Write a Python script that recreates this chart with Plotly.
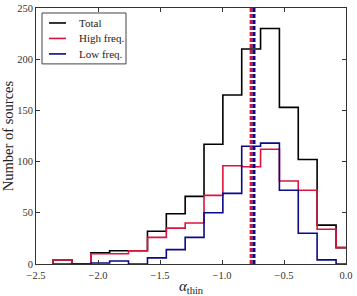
import plotly.graph_objects as go

# Bin edges (alpha_thin) and counts
bin_edges = [-2.362, -2.210, -2.058, -1.906, -1.754, -1.601, -1.449, -1.297,
             -1.145, -0.993, -0.841, -0.689, -0.537, -0.385, -0.233, -0.080, 0.072]
total_counts = [4, 0, 11, 13, 13, 32, 49, 66, 117, 165, 210, 230, 153, 102, 38, 16]
high_counts = [4, 0, 10, 10, 13, 26, 35, 40, 67, 96, 95, 112, 81, 72, 34, 16]
low_counts = [0, 0, 1, 3, 0, 6, 14, 26, 50, 69, 115, 118, 72, 30, 4, 0]
high_median = -0.765
low_median = -0.742

x_ticks = [-2.5, -2.0, -1.5, -1.0, -0.5, 0.0]
y_ticks = [0, 50, 100, 150, 200, 250]

names = ["Total", "High freq.", "Low freq."]
colors = ["#000000", "#dc143c", "#0a0a8a"]
FONT = "Liberation Serif"


def step_xy(edges, counts):
    xs = [edges[0]] + list(edges)
    ys = [0] + list(counts) + [counts[-1]]
    xs = xs + [edges[-1]]
    ys = ys + [0]
    return xs, ys


fig = go.Figure()
for name, counts, col in zip(names, [total_counts, high_counts, low_counts], colors):
    xs, ys = step_xy(bin_edges, counts)
    fig.add_trace(go.Scatter(x=xs, y=ys, mode="lines", name=name,
                             line=dict(color=col, width=1.6, shape="hv"),
                             showlegend=False, hoverinfo="skip"))

for med, col in [(high_median, colors[1]), (low_median, colors[2])]:
    fig.add_trace(go.Scatter(x=[med, med], y=[0, 250], mode="lines",
                             line=dict(color=col, width=3, dash="4px,2px"),
                             showlegend=False, hoverinfo="skip"))

# manual legend (matplotlib-like)
L, R, T, B = 36, 346, 8, 264.5
def px(x):
    return (x - L) / (R - L)
def py(y):
    return (B - y) / (B - T)

fig.add_shape(type="rect", xref="paper", yref="paper",
              x0=px(42), x1=px(126), y0=py(64), y1=py(13),
              line=dict(color="#444444", width=1), fillcolor="white", layer="above")
for i, (name, col) in enumerate(zip(names, colors)):
    yy = [23, 38.5, 54][i]
    fig.add_shape(type="line", xref="paper", yref="paper",
                  x0=px(49), x1=px(66), y0=py(yy), y1=py(yy),
                  line=dict(color=col, width=1.6), layer="above")
    fig.add_annotation(xref="paper", yref="paper", x=px(77), y=py(yy),
                       text=name, showarrow=False, xanchor="left", yanchor="middle",
                       font=dict(family=FONT, size=11, color="#222222"))

axis_common = dict(showgrid=False, zeroline=False, showline=True, linecolor="#333333",
                   linewidth=1, mirror="ticks", ticks="inside", ticklen=4, automargin=False,
                   tickcolor="#333333", tickfont=dict(family=FONT, size=10.5, color="#333333"))

fig.update_xaxes(range=[-2.5, 0.0], tickvals=x_ticks,
                 ticktext=[("\u2212%.1f" % abs(v)) if v < 0 else "%.1f" % v for v in x_ticks],
                 ticklabelstandoff=1,
                 title=dict(text="<i>α</i><sub>thin</sub>", font=dict(family=FONT, size=15, color="#222222"),
                            standoff=0),
                 **axis_common)
fig.update_yaxes(range=[0, 250], tickvals=y_ticks,
                 title=dict(text="Number of sources", font=dict(family=FONT, size=14.5, color="#222222"),
                            standoff=3),
                 **axis_common)

fig.update_layout(width=357, height=296, plot_bgcolor="white", paper_bgcolor="white",
                  margin=dict(l=L, r=357 - R, t=T, b=296 - B), showlegend=False)

fig.write_html("out.html", config={"displayModeBar": False},
               post_script="document.body.style.margin='0';")
